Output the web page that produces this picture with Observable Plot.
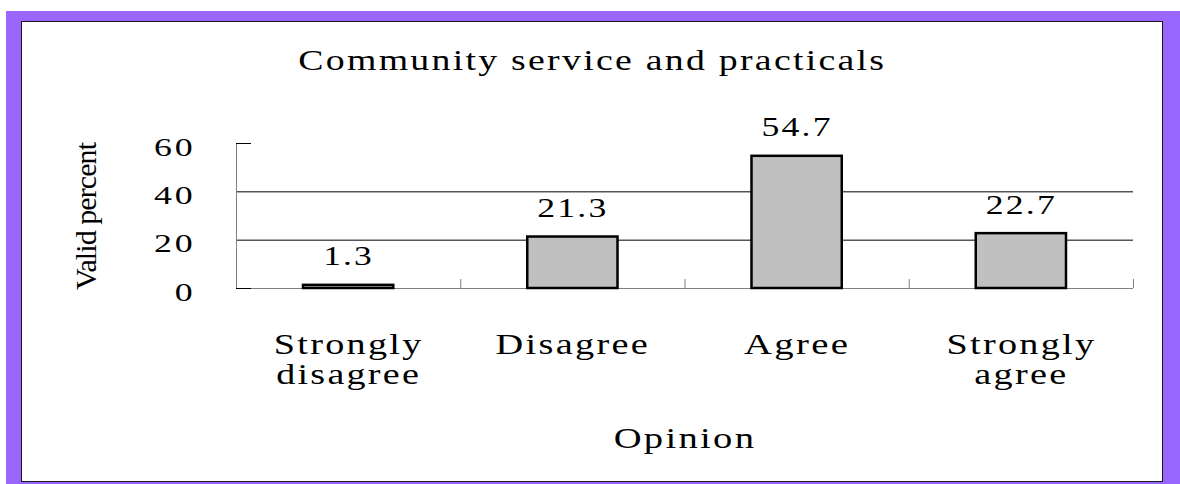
<!DOCTYPE html>
<html><head><meta charset="utf-8">
<script src="https://cdn.jsdelivr.net/npm/d3@7"></script>
<script src="https://cdn.jsdelivr.net/npm/@observablehq/plot@0.6"></script>
<style>
html,body{margin:0;padding:0;background:#fff;width:1180px;height:484px;overflow:hidden;font-family:"Liberation Serif",serif;}
#frame{position:absolute;left:6px;top:11px;width:1174px;height:473px;background:#9966ff;}
#panel{position:absolute;left:21px;top:21px;width:1142px;height:461px;background:#fff;border:1px solid #1a1a1a;box-sizing:border-box;}
#title{position:absolute;left:2px;top:45px;width:1180px;text-align:center;font-size:30px;line-height:30px;color:#000;white-space:nowrap;}
#title span{display:inline-block;transform:scaleX(1.26);letter-spacing:0.06em;}
#chart{position:absolute;left:0;top:0;}
#chart svg text{font-family:"Liberation Serif",serif;}
</style></head><body>
<div id="frame"></div><div id="panel"></div>
<div id="title"><span></span></div>
<div id="chart"></div>
<script>
const chartTitle = "Community service and practicals";
const categories = ["Strongly\ndisagree", "Disagree", "Agree", "Strongly\nagree"];
const values = [1.3, 21.3, 54.7, 22.7];
const yTicks = [0, 20, 40, 60];
const xLabel = "Opinion";
const yLabel = "Valid percent";

document.querySelector("#title span").textContent = chartTitle;
const data = categories.map((c, i) => ({i, category: c, value: values[i]}));
const serif = "Liberation Serif, serif";

const plot = Plot.plot({
  width: 1180, height: 484,
  marginLeft: 236, marginRight: 47, marginTop: 143, marginBottom: 196,
  x: {domain: [0, categories.length]},
  y: {domain: [0, 60]},
  style: "font-family: 'Liberation Serif', serif; background: transparent; color: #000; overflow: visible;",
  marks: [
    Plot.ruleY([20, 40], {stroke: "#000", strokeWidth: 1}),
    Plot.ruleY([0], {stroke: "#808080"}),
    Plot.ruleX([0], {stroke: "#808080"}),
    Plot.rectY(data, {x1: "i", x2: d => d.i + 1, y: "value", insetLeft: 67, insetRight: 67, fill: "#c0c0c0", stroke: "#000", strokeWidth: 2.5}),
    Plot.axisY({ticks: [0, 60], tickSize: -15, tickFormat: () => "", stroke: "#000", label: null}),
    Plot.axisY({ticks: yTicks, tickSize: 0, tickPadding: 41, dy: 4, fontSize: 26, fontFamily: serif, label: null}),
    Plot.axisX({ticks: [1, 2, 3, 4], tickSize: -9, tickFormat: () => "", stroke: "#808080", label: null}),
    Plot.axisX({ticks: categories.map((c, i) => i + 0.5), tickSize: 0, tickPadding: 44, tickFormat: d => categories[Math.floor(d)], fontSize: 30, fontFamily: serif, lineHeight: 1, label: null}),
    Plot.text(data, {x: d => d.i + 0.5, y: "value", text: d => String(d.value), lineAnchor: "bottom", dy: -20, fontSize: 28, fontFamily: serif}),
    Plot.text([xLabel], {frameAnchor: "bottom", dy: 159, lineAnchor: "bottom", fontSize: 30, fontFamily: serif}),
    Plot.text([yLabel], {frameAnchor: "left", textAnchor: "middle", dx: -141, rotate: -90, lineAnchor: "bottom", fontSize: 30, fontFamily: serif})
  ]
});
document.getElementById("chart").appendChild(plot);

// widen text: part letter-spacing, part glyph stretch (keeps strokes thin)
function widen(nodes, k, spacingEm) {
  nodes.forEach(t => {
    const parts = t.querySelectorAll("tspan");
    const list = parts.length ? Array.from(parts) : [t];
    list.forEach(n => {
      const L = n.getComputedTextLength();
      if (L > 0) {
        n.setAttribute("letter-spacing", spacingEm + "em");
        n.setAttribute("textLength", L * k);
        n.setAttribute("lengthAdjust", "spacingAndGlyphs");
      }
    });
  });
}
function squeeze(nodes, k) {
  nodes.forEach(n => {
    const L = n.getComputedTextLength();
    n.setAttribute("textLength", L * k);
    n.setAttribute("lengthAdjust", "spacing");
  });
}
const allText = Array.from(plot.querySelectorAll("text"));
const yTickText = Array.from(plot.querySelectorAll('g[aria-label="y-axis tick label"] text'));
const yLab = allText.filter(t => t.textContent === yLabel);
const others = allText.filter(t => !yTickText.includes(t) && !yLab.includes(t));
widen(others, 1.45, 0.06);
widen(yTickText, 1.6, 0.08);
squeeze(yLab, 0.93);
</script>
</body></html>
